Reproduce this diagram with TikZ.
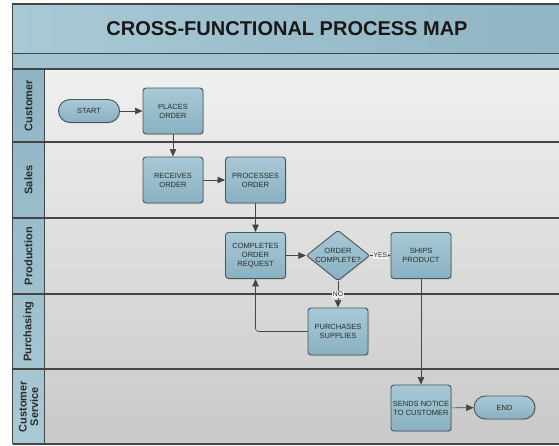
\documentclass[tikz,border=0pt]{standalone}
\usepackage{fontspec}
\setmainfont{Liberation Sans}
\usetikzlibrary{shapes.geometric,arrows.meta,shadows}
\definecolor{bandblue}{HTML}{8FB4C4}
\definecolor{bandlight}{HTML}{A9C9D5}
\definecolor{subband}{HTML}{A2C3CF}
\definecolor{boxblue}{HTML}{89B1C2}
\definecolor{boxlight}{HTML}{A8C9D6}
\definecolor{edgegray}{HTML}{4A5559}
\definecolor{lanetop}{HTML}{F0F0F0}
\definecolor{lanebot}{HTML}{C9C9C9}
\definecolor{linegray}{HTML}{454545}
\definecolor{inkgray}{HTML}{2B2B2B}

\begin{document}
\begin{tikzpicture}[x=1pt,y=-1pt,
  task/.style={draw=edgegray,line width=0.9pt,rounded corners=3pt,top color=boxlight,bottom color=boxblue,
    minimum width=60pt,minimum height=46pt,inner sep=1pt,align=center,text=inkgray,
    font=\fontsize{7.5}{9}\selectfont,drop shadow={opacity=0.25,shadow xshift=1pt,shadow yshift=-1pt}},
  term/.style={task,rounded corners=11.5pt,minimum width=61pt,minimum height=23pt},
  check/.style={task,diamond,rounded corners=2pt,aspect=1.25,inner sep=0pt,minimum width=56pt,minimum height=45pt},
  flow/.style={draw=linegray,line width=0.6pt,-{Triangle[length=7.5pt,width=6.5pt]}},
  tag/.style={fill=lanetop,inner sep=0.8pt,text=inkgray,font=\fontsize{6.8}{7}\selectfont},
  lanename/.style={rotate=90,align=center,text=inkgray,font=\fontsize{11}{11.5}\selectfont\bfseries}]
\clip (0,0) rectangle (559,445);
\fill[white] (0,0) rectangle (559,445);
\fill[left color=bandlight,right color=bandblue] (12.5,4) rectangle (575,53.5);
\fill[subband] (12.5,53.5) rectangle (575,69);
\fill[top color=lanetop,bottom color=lanebot] (44.5,69) rectangle (575,444);
\fill[bottom color=bandlight,top color=bandblue] (12.5,69) rectangle (44.5,444);
\node[text=black!90,font=\fontsize{20}{22}\selectfont\bfseries] (title) at (287,29) {CROSS-FUNCTIONAL PROCESS MAP};
\foreach \ya/\yb/\name in {69/142/Customer,142/218/Sales,218/294/Production,294/369/Purchasing,369/444/{Customer\\Service}}{
  \node[lanename] at (28.5,{(\ya+\yb)/2}) {\name};
  \draw[linegray,line width=1.1pt] (12.5,\yb) -- (575,\yb);
}
\draw[linegray,line width=1.1pt] (12.5,53.5) -- (575,53.5) (12.5,69) -- (575,69);
\draw[linegray,line width=1.1pt] (44.5,69) -- (44.5,444);
\draw[linegray,line width=1.1pt] (12.5,444) -- (12.5,4) -- (575,4);

\node[term] (start) at (89,111) {START};
\node[task] (places) at (173,111) {PLACES\\ORDER};
\node[task] (receives) at (173,180) {RECEIVES\\ORDER};
\node[task] (processes) at (255.5,180) {PROCESSES\\ORDER};
\node[task] (completes) at (255.5,255.5) {COMPLETES\\ORDER\\REQUEST};
\node[check] (done) at (338,255.5) {ORDER\\COMPLETE?};
\node[task] (ships) at (421,255.5) {SHIPS\\PRODUCT};
\node[task,minimum height=47pt] (purchases) at (338,331.5) {PURCHASES\\SUPPLIES};
\node[task] (notice) at (421,408) {SENDS NOTICE\\TO CUSTOMER};
\node[term] (end) at (504.5,407.5) {END};

\draw[flow] (start) -- (places);
\draw[flow] (places) -- (receives);
\draw[flow] (receives) -- (processes);
\draw[flow] (processes) -- (completes);
\draw[flow] (completes) -- (done);
\draw[flow] (done) -- node[tag] {YES} (ships);
\draw[flow] (done) -- node[tag] {NO} (purchases);
\draw[flow,rounded corners=3pt] (purchases.west) -| (completes.south);
\draw[flow] (ships) -- (notice);
\draw[flow] (notice) -- (end);
\end{tikzpicture}
\end{document}
